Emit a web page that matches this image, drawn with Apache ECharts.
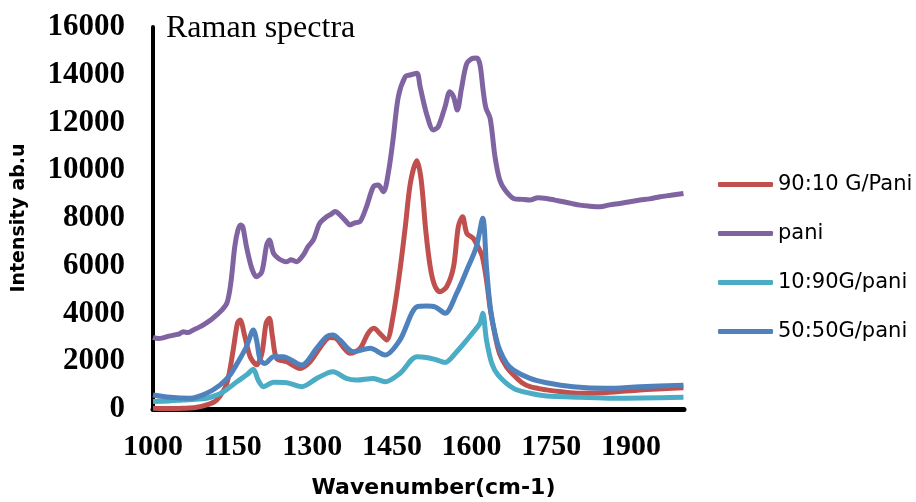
<!DOCTYPE html>
<html>
<head>
<meta charset="utf-8">
<script src="https://cdn.jsdelivr.net/npm/echarts@6/dist/echarts.min.js"></script>
<style>
  html, body { margin: 0; padding: 0; background: #fff; }
  #chart { width: 916px; height: 502px; }
</style>
</head>
<body>
<div id="chart"></div>
<script>
// tick labels / axis settings
const xTicks = { min: 1000, max: 2000, step: 150 }
const yTicks = { min: 0, max: 16000, step: 2000 }

// 90:10 G/Pani
const redX = [1000, 1020, 1040, 1057, 1080, 1101, 1120, 1139, 1151, 1159, 1164, 1173, 1183, 1195, 1205, 1213, 1219, 1225, 1233, 1252, 1277, 1296, 1314, 1333, 1345, 1358, 1371, 1390, 1405, 1416, 1427, 1440, 1452, 1465, 1475, 1485, 1497, 1505, 1514, 1522, 1530, 1540, 1553, 1566, 1575, 1583, 1591, 1603, 1612, 1620, 1628, 1635, 1644, 1653, 1666, 1679, 1695, 1710, 1741, 1770, 1804, 1854, 1917, 1960, 1999]
const redY = [30, 20, 20, 30, 60, 170, 380, 1080, 2470, 3590, 3730, 3030, 2190, 1850, 2330, 3590, 3800, 3030, 2120, 1980, 1700, 1980, 2550, 3000, 2950, 2600, 2330, 2540, 3170, 3380, 3170, 2890, 3870, 5800, 7600, 9500, 10400, 9600, 7400, 5960, 5200, 4910, 5120, 5960, 7640, 8050, 7360, 7150, 6800, 6400, 5400, 4200, 3100, 2300, 1750, 1420, 1100, 935, 800, 720, 660, 690, 800, 850, 890]

// pani
const purpleX = [1000, 1010, 1019, 1030, 1040, 1050, 1057, 1065, 1075, 1089, 1100, 1110, 1120, 1130, 1139, 1144, 1148, 1154, 1160, 1165, 1169, 1176, 1186, 1195, 1205, 1214, 1219, 1227, 1236, 1245, 1252, 1260, 1270, 1283, 1292, 1302, 1314, 1327, 1335, 1343, 1352, 1362, 1371, 1380, 1390, 1402, 1415, 1424, 1434, 1443, 1452, 1462, 1475, 1484, 1497, 1503, 1515, 1528, 1537, 1550, 1559, 1566, 1573, 1581, 1591, 1603, 1610, 1616, 1622, 1627, 1635, 1644, 1653, 1663, 1679, 1695, 1710, 1725, 1741, 1757, 1773, 1790, 1804, 1820, 1842, 1860, 1879, 1898, 1917, 1935, 1955, 1975, 1999]
const purpleY = [3000, 2950, 2980, 3050, 3100, 3150, 3240, 3200, 3300, 3450, 3600, 3750, 3940, 4150, 4430, 4900, 5540, 6800, 7500, 7710, 7640, 6800, 5890, 5540, 5750, 6870, 7080, 6520, 6310, 6200, 6170, 6250, 6170, 6450, 6800, 7080, 7780, 8050, 8150, 8270, 8130, 7900, 7710, 7800, 7850, 8470, 9310, 9380, 9100, 9870, 11270, 13080, 13920, 13990, 14060, 13500, 12380, 11690, 11820, 12660, 13290, 13080, 12520, 13430, 14480, 14690, 14700, 14400, 13300, 12600, 12170, 10570, 9590, 9170, 8820, 8780, 8750, 8850, 8820, 8750, 8680, 8600, 8540, 8500, 8470, 8550, 8610, 8680, 8750, 8800, 8890, 8950, 9030]

// 10:90G/pani
const cyanX = [1000, 1030, 1057, 1080, 1101, 1120, 1133, 1145, 1158, 1176, 1189, 1198, 1208, 1227, 1252, 1280, 1308, 1330, 1339, 1364, 1383, 1415, 1437, 1465, 1497, 1515, 1531, 1550, 1572, 1591, 1609, 1616, 1621, 1628, 1638, 1650, 1679, 1710, 1741, 1804, 1867, 1999]
const cyanY = [310, 340, 380, 410, 450, 580, 730, 920, 1140, 1420, 1660, 1210, 935, 1120, 1100, 935, 1280, 1520, 1560, 1280, 1210, 1280, 1140, 1490, 2190, 2160, 2080, 1950, 2400, 2890, 3380, 3600, 4010, 2890, 1910, 1420, 865, 660, 545, 490, 450, 490]

// 50:50G/pani
const blueX = [1000, 1032, 1070, 1101, 1126, 1145, 1164, 1176, 1189, 1195, 1202, 1211, 1227, 1245, 1280, 1308, 1327, 1339, 1352, 1377, 1409, 1437, 1465, 1497, 1515, 1531, 1550, 1572, 1591, 1609, 1621, 1628, 1635, 1644, 1653, 1666, 1679, 1710, 1741, 1791, 1854, 1917, 1999]
const blueY = [590, 490, 450, 660, 1000, 1420, 2120, 2610, 3310, 2890, 2050, 1910, 2190, 2190, 1840, 2540, 3030, 3100, 2890, 2400, 2540, 2260, 2890, 4280, 4310, 4280, 4010, 4850, 5820, 6800, 7990, 5960, 4280, 3170, 2470, 1910, 1630, 1280, 1100, 935, 865, 935, 1000]

const pairs = (xs, ys) => xs.map((x, i) => [x, ys[i]])

const serif = 'Liberation Serif'
const sans = 'DejaVu Sans'

let myChart = echarts.init(document.getElementById('chart'))
let option = {
  animation: false,
  color: ['#C0504D', '#8064A2', '#4BACC6', '#4F81BD'],
  title: {
    text: 'Raman spectra',
    left: 161,
    top: 8,
    textStyle: { fontFamily: serif, fontSize: 32, fontWeight: 'normal', color: '#000' }
  },
  grid: { left: 153, right: 232, top: 27, bottom: 93, outerBoundsMode: 'none' },
  legend: {
    orient: 'vertical',
    left: 713,
    top: 169,
    icon: 'roundRect',
    itemWidth: 55,
    itemHeight: 5,
    itemGap: 28,
    textStyle: { fontFamily: sans, fontSize: 21, color: '#000' },
    data: ['90:10 G/Pani', 'pani', '10:90G/pani', '50:50G/pani']
  },
  xAxis: {
    type: 'value',
    position: 'bottom',
    min: xTicks.min,
    max: xTicks.max,
    interval: xTicks.step,
    name: 'Wavenumber(cm-1)',
    nameLocation: 'middle',
    nameGap: 68,
    nameTextStyle: { fontFamily: sans, fontSize: 22, fontWeight: 'bold', color: '#000', padding: [0, 0, 0, 30] },
    axisLine: { show: true, onZero: false, lineStyle: { color: '#000', width: 5 } },
    axisTick: { show: false },
    splitLine: { show: false },
    axisLabel: { showMaxLabel: false, margin: 23, fontFamily: serif, fontSize: 30, fontWeight: 'bold', color: '#000', formatter: v => String(v) }
  },
  yAxis: {
    type: 'value',
    min: yTicks.min,
    max: yTicks.max,
    interval: yTicks.step,
    name: 'Intensity ab.u',
    nameLocation: 'middle',
    nameGap: 124,
    nameTextStyle: { fontFamily: sans, fontSize: 19, fontWeight: 'bold', color: '#000' },
    axisLine: { show: true, onZero: false, lineStyle: { color: '#000', width: 4 } },
    axisTick: { show: false },
    splitLine: { show: false },
    axisLabel: { margin: 28, fontFamily: serif, fontSize: 31, fontWeight: 'bold', color: '#000', formatter: v => String(v) }
  },
  series: [
    { name: '90:10 G/Pani', type: 'line', symbol: 'none', smooth: 0.3, clip: false, lineStyle: { width: 5 }, data: pairs(redX, redY) },
    { name: 'pani', type: 'line', symbol: 'none', smooth: 0.3, lineStyle: { width: 5 }, data: pairs(purpleX, purpleY) },
    { name: '10:90G/pani', type: 'line', symbol: 'none', smooth: 0.3, lineStyle: { width: 5 }, data: pairs(cyanX, cyanY) },
    { name: '50:50G/pani', type: 'line', symbol: 'none', smooth: 0.3, lineStyle: { width: 5 }, data: pairs(blueX, blueY) }
  ]
}
myChart.setOption(option)
</script>
</body>
</html>
